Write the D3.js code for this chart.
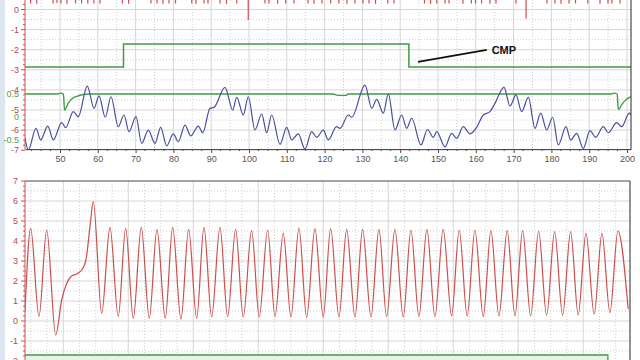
<!DOCTYPE html>
<html><head><meta charset="utf-8">
<script src="https://cdn.jsdelivr.net/npm/d3@7"></script>
<style>body{margin:0;background:#fff;overflow:hidden}svg{display:block}text{font-family:"Liberation Sans",Arial,sans-serif}</style>
</head><body>
<svg id="c" width="640" height="360"></svg>
<script>
// ---------- DATA ----------
const topXTicks = [50,60,70,80,90,100,110,120,130,140,150,160,170,180,190,200];
const redYTicks = [0,-1,-2,-3,-4,-5,-6,-7];
const greenYTicks = [0.5,0,-0.5];
const botYTicks = [7,6,5,4,3,2,1,0,-1,-2];

// blue trace (top panel, red axis units)
const blueX = [40.74,41.61,43.65,44.89,46.75,48.23,50.45,51.51,53.52,54.84,
57.22,59.0,60.32,61.98,63.49,65.42,66.93,68.25,70.11,71.61,
73.36,75.13,76.64,78.23,79.97,81.30,83.07,84.58,86.59,87.75,
89.68,90.74,93.65,95.69,96.75,98.49,99.81,101.59,103.36,104.68,
106.01,108.20,109.97,111.30,113.04,114.81,116.59,117.91,119.66,120.98,
123.17,124.07,126.27,127.17,130.69,132.46,133.78,135.53,136.85,138.62,
140.40,141.72,143.04,145.50,147.22,148.76,149.66,151.85,153.62,154.95,
156.69,158.47,160.24,161.98,163.76,165.08,167.46,169.05,170.63,172.14,
173.89,175.66,177.17,178.76,180.34,181.83,183.86,185.10,186.69,188.43,
190.21,191.72,193.73,195.05,197.27,198.59,200.61,201.06];
const blueV = [-6.39,-6.99,-5.91,-6.49,-5.80,-6.49,-5.63,-5.88,-5.08,-5.33,
-3.81,-4.92,-4.30,-5.36,-4.34,-5.83,-5.25,-6.08,-5.33,-6.66,
-6.00,-6.66,-5.86,-6.78,-6.19,-6.58,-5.75,-6.29,-5.80,-6.13,
-4.92,-4.87,-3.87,-5.00,-4.37,-5.25,-4.34,-5.99,-5.20,-6.13,
-5.25,-6.71,-5.86,-6.49,-6.19,-6.94,-6.08,-6.36,-6.00,-6.49,
-5.83,-5.91,-5.25,-5.36,-3.76,-4.92,-4.47,-5.16,-4.20,-5.99,
-5.25,-5.91,-5.41,-6.74,-5.97,-6.36,-6.08,-6.83,-6.16,-6.41,
-5.83,-6.19,-5.86,-5.25,-5.08,-4.67,-3.87,-4.80,-4.25,-5.08,
-4.37,-5.91,-5.16,-5.99,-5.36,-6.74,-5.83,-6.49,-6.16,-6.91,
-6.03,-6.36,-5.83,-6.13,-5.63,-5.83,-5.16,-5.25];

// green signal (top panel, green axis)
const greenX = [40.74,49.2,50.2,50.9,51.2,52.2,53.1,54.4,56.1,58,122.2,123.5,125.7,126.2,196.0,196.5,197.4,197.7,198.7,199.8,201.06];
const greenV = [0.5,0.5,0.52,0.5,0.15,0.3,0.39,0.45,0.49,0.5,0.5,0.47,0.47,0.5,0.5,0.52,0.5,0.16,0.28,0.38,0.44];

// CMP step signal (top panel, red axis units)
const cmpX = [40.74,66.8,142.3,201.06];
const cmpV = [-2.86,-1.72,-2.86,-2.86];

// red trace dips at top of upper panel
const redDipX = [42.22,43.84,48.15,49.21,50.26,51.85,54.10,55.71,57.35,58.97,60.58,66.51,68.15,74.07,75.66,77.25,78.84,80.56,84.87,85.98,88.10,89.15,92.33,94.05,96.75,99.8,104.23,105.29,107.57,109.71,111.90,115.61,117.20,119.31,121.59,123.76,125.93,128.04,130.16,131.75,133.47,136.72,138.36,146.43,148.04,149.66,151.85,152.91,156.61,158.84,159.92,161.53,163.76,165.34,170.63,173.3,178.84,180.95,182.54,184.66,186.38,189.63,192.86,194.97,196.03,198.15];
const redDipV = [0.3,0.28,0.3,0.32,0.3,0.28,0.3,0.3,0.28,0.3,0.3,0.3,0.28,0.3,0.3,0.28,0.3,0.3,0.3,0.28,0.3,0.3,0.3,0.28,0.3,-0.52,0.3,0.3,0.28,0.3,0.3,0.3,0.28,0.3,0.3,0.3,0.28,0.3,0.3,0.3,0.28,0.3,0.3,0.3,0.28,0.3,0.3,0.3,0.28,0.3,0.3,0.3,0.28,0.3,0.3,-0.45,0.3,0.3,0.28,0.3,0.3,0.3,0.28,0.3,0.3,0.3];

// bottom panel red signal
const botT = [-58.9,-50.2,-37.4,-25.5,-11.7,-2.5,5.2,12.9,20.6,28.3,
34.9,41.1,46.2,59.1,71.8,84.6,96.0,107.7,120.0,132.3,
144.2,156.9,168.3,181.1,192.9,205.2,216.5,228.3,241.1,252.9,
265.2,276.9,289.8,301.5,314.5,325.7,338.5,350.3,362.6,374.5,
387.2,400.0,411.4,424.2,436.0,448.8,460.6,473.4,485.7,497.5,
510.3,523.1,534.9,547.2,559.5,571.8,584.6,597.5,609.2,621.5,
633.4,646.2,658.0,670.3,683.1,694.9,706.8,719.1,731.4,743.7,
756.0,768.3,780.6,792.3,804.2,816.9,828.8,841.1,853.4,869.2];
const botV = [0.5,4.63,0.22,4.55,-0.70,1.05,1.88,2.25,2.35,2.55,
3.05,4.72,5.97,0.38,4.68,0.22,4.63,0.13,4.68,0.13,
4.58,0.13,4.68,0.08,4.58,0.13,4.68,0.2,4.68,0.22,
4.58,0.2,4.52,0.2,4.55,0.22,4.38,0.2,4.65,0.18,
4.62,0.2,4.62,0.2,4.58,0.2,4.58,0.2,4.58,0.22,
4.58,0.2,4.55,0.22,4.58,0.22,4.58,0.25,4.55,0.25,
4.55,0.22,4.52,0.25,4.52,0.25,4.52,0.25,4.5,0.28,
4.47,0.28,4.47,0.3,4.38,0.35,4.38,0.42,4.5,0.6];

// bottom panel green signal
const botGreenT = [-58.9,838,838,872];
const botGreenV = [-1.7,-1.7,-3,-3];

// ---------- RENDER ----------
const svg = d3.select("#c");
const RED = "#c9504e", BLUE = "#4b4f9c", GREEN = "#3f9b45", AXIS = "#4a4a4a";

svg.append("rect").attr("width",640).attr("height",360).attr("fill","#fff");
svg.append("rect").attr("x",0).attr("y",0).attr("width",5).attr("height",360).attr("fill","#dde5ee");

// ---- top panel scales
const xTop = d3.scaleLinear().domain([40.74, 201.06]).range([25, 631]);
const yRed = d3.scaleLinear().domain([0, -7]).range([9.5, 150.2]);
const yGrn = d3.scaleLinear().domain([0.5, -0.5]).range([94, 140]);
const T = {top:0, bottom:149, left:25, right:631};

const defs = svg.append("defs");
defs.append("clipPath").attr("id","clipTop").append("rect")
  .attr("x",T.left).attr("y",T.top).attr("width",T.right-T.left).attr("height",T.bottom-T.top);

const gTop = svg.append("g");
// grid
const hGrid = d3.range(0.5, -7.01, -0.5);
gTop.selectAll("line.hg").data(hGrid).join("line")
  .attr("x1",T.left).attr("x2",T.right)
  .attr("y1",d=>yRed(d)).attr("y2",d=>yRed(d))
  .attr("stroke", d=>Number.isInteger(d)?"#d6d6d6":"#cfcfcf")
  .attr("stroke-dasharray", d=>Number.isInteger(d)?null:"1,2");
const vGrid = d3.range(45, 201, 5);
gTop.selectAll("line.vg").data(vGrid).join("line")
  .attr("x1",d=>xTop(d)).attr("x2",d=>xTop(d))
  .attr("y1",T.top).attr("y2",T.bottom)
  .attr("stroke", d=>d%10===0?"#d6d6d6":"#cfcfcf")
  .attr("stroke-dasharray", d=>d%10===0?null:"1,2");

const cTop = gTop.append("g").attr("clip-path","url(#clipTop)");
// red dips at top
cTop.selectAll("line.dip").data(redDipX.map((x,i)=>[x,redDipV[i]])).join("line")
  .attr("x1",d=>xTop(d[0])).attr("x2",d=>xTop(d[0]))
  .attr("y1",yRed(0.6)).attr("y2",d=>yRed(d[1]))
  .attr("stroke",RED).attr("stroke-width",1.2);
// CMP step
cTop.append("path").datum(cmpX.map((x,i)=>[x,cmpV[i]]))
  .attr("d", d3.line().x(d=>xTop(d[0])).y(d=>yRed(d[1])).curve(d3.curveStepAfter))
  .attr("fill","none").attr("stroke",GREEN).attr("stroke-width",1.5);
// green signal
cTop.append("path").datum(greenX.map((x,i)=>[x,greenV[i]]))
  .attr("d", d3.line().x(d=>xTop(d[0])).y(d=>yGrn(d[1])).curve(d3.curveMonotoneX))
  .attr("fill","none").attr("stroke",GREEN).attr("stroke-width",1.4);
// blue
cTop.append("path").datum(blueX.map((x,i)=>[x,blueV[i]]))
  .attr("d", d3.line().x(d=>xTop(d[0])).y(d=>yRed(d[1])).curve(d3.curveMonotoneX))
  .attr("fill","none").attr("stroke",BLUE).attr("stroke-width",1.2);

// top axes
const ax = gTop.append("g").attr("transform",`translate(0,${T.bottom})`)
  .call(d3.axisBottom(xTop).tickValues(topXTicks).tickSize(4).tickSizeOuter(0).tickPadding(3));
ax.select(".domain").attr("stroke",AXIS);
ax.selectAll(".tick line").attr("stroke",AXIS);
ax.selectAll("text").attr("fill","#555").attr("font-size",9).attr("font-family","Liberation Sans, Arial, sans-serif");
gTop.selectAll("line.mx").data(d3.range(42.5, 201, 2.5).filter(d=>d%10!==0)).join("line")
  .attr("x1",d=>xTop(d)).attr("x2",d=>xTop(d)).attr("y1",T.bottom).attr("y2",T.bottom+2).attr("stroke",AXIS);
// right border
gTop.append("line").attr("x1",T.right).attr("x2",T.right).attr("y1",0).attr("y2",T.bottom).attr("stroke",AXIS).attr("stroke-width",1.2);
// left red axis
gTop.append("line").attr("x1",T.left).attr("x2",T.left).attr("y1",0).attr("y2",T.bottom).attr("stroke",RED);
gTop.selectAll("line.rt").data(d3.range(0.25,-7.01,-0.25)).join("line")
  .attr("x1",d=>T.left-(Number.isInteger(d)?4:2)).attr("x2",T.left)
  .attr("y1",d=>yRed(d)).attr("y2",d=>yRed(d)).attr("stroke",RED);
gTop.selectAll("text.ry").data(redYTicks).join("text")
  .attr("x",19).attr("y",d=>yRed(d)+3.2).attr("text-anchor","end")
  .attr("font-size",9).attr("fill","#b84a48").text(d=>d===0?"0":"-"+Math.abs(d));
gTop.selectAll("text.gy").data(greenYTicks).join("text")
  .attr("x",19).attr("y",d=>yGrn(d)+3.2).attr("text-anchor","end")
  .attr("font-size",9).attr("fill","#4f9c55").text(d=>d===0?"0":(d<0?"-":"")+Math.abs(d));

// CMP annotation
const ann = {x1:144.7, v1:-2.61, x2:162.9, v2:-2.01, tx:164.2, tv:-2.22};
gTop.append("line").attr("x1",xTop(ann.x1)).attr("y1",yRed(ann.v1))
  .attr("x2",xTop(ann.x2)).attr("y2",yRed(ann.v2)).attr("stroke","#111").attr("stroke-width",1.8);
gTop.append("text").attr("x",xTop(ann.tx)).attr("y",yRed(ann.tv))
  .attr("font-size",11).attr("font-weight","bold").attr("fill","#111").text("CMP");

// ---- bottom panel
const xBot = d3.scaleLinear().domain([-58.9, 872]).range([25, 630]);
const yBot = d3.scaleLinear().domain([7, -2]).range([181, 361]);
const B = {top:181, bottom:360, left:25, right:630};
defs.append("clipPath").attr("id","clipBot").append("rect")
  .attr("x",B.left).attr("y",B.top).attr("width",B.right-B.left).attr("height",B.bottom-B.top);
const gBot = svg.append("g");
gBot.selectAll("line.hg").data(d3.range(6.5,-2.01,-0.5)).join("line")
  .attr("x1",B.left).attr("x2",B.right).attr("y1",d=>yBot(d)).attr("y2",d=>yBot(d))
  .attr("stroke", d=>Number.isInteger(d)?"#d6d6d6":"#cfcfcf")
  .attr("stroke-dasharray", d=>Number.isInteger(d)?null:"1,2");
gBot.selectAll("line.vg").data(d3.range(-50, 871, 25)).join("line")
  .attr("x1",d=>xBot(d)).attr("x2",d=>xBot(d)).attr("y1",B.top).attr("y2",B.bottom)
  .attr("stroke", d=>d%100===0?"#d6d6d6":"#cfcfcf")
  .attr("stroke-dasharray", d=>d%100===0?null:"1,2");
const cBot = gBot.append("g").attr("clip-path","url(#clipBot)");
const gData = botGreenT.map((t,i)=>[t,botGreenV[i]]);
cBot.append("path").datum(gData)
  .attr("d", d3.area().x(d=>xBot(d[0])).y0(B.bottom+5).y1(d=>yBot(d[1])))
  .attr("fill","#e8f3e4");
cBot.append("path").datum(gData)
  .attr("d", d3.line().x(d=>xBot(d[0])).y(d=>yBot(d[1])))
  .attr("fill","none").attr("stroke",GREEN).attr("stroke-width",1.3);
cBot.append("path").datum(botT.map((t,i)=>[t,botV[i]]))
  .attr("d", d3.line().x(d=>xBot(d[0])).y(d=>yBot(d[1])).curve(d3.curveMonotoneX))
  .attr("fill","none").attr("stroke",RED).attr("stroke-width",1.2);
gBot.append("line").attr("x1",B.left).attr("x2",B.right).attr("y1",B.top).attr("y2",B.top).attr("stroke",AXIS).attr("stroke-width",1.2);
gBot.append("line").attr("x1",B.right).attr("x2",B.right).attr("y1",B.top).attr("y2",B.bottom).attr("stroke",AXIS).attr("stroke-width",1.2);
gBot.append("line").attr("x1",B.left).attr("x2",B.left).attr("y1",B.top).attr("y2",B.bottom).attr("stroke",RED);
gBot.selectAll("line.rt").data(d3.range(7,-2.01,-0.25)).join("line")
  .attr("x1",d=>B.left-(Number.isInteger(d)?4:2)).attr("x2",B.left)
  .attr("y1",d=>yBot(d)).attr("y2",d=>yBot(d)).attr("stroke",RED);
gBot.selectAll("text.by").data(botYTicks).join("text")
  .attr("x",18).attr("y",d=>yBot(d)+3.2).attr("text-anchor","end")
  .attr("font-size",9).attr("fill","#b84a48").text(d=>d<0?"-"+Math.abs(d):String(d));
</script>
</body></html>
